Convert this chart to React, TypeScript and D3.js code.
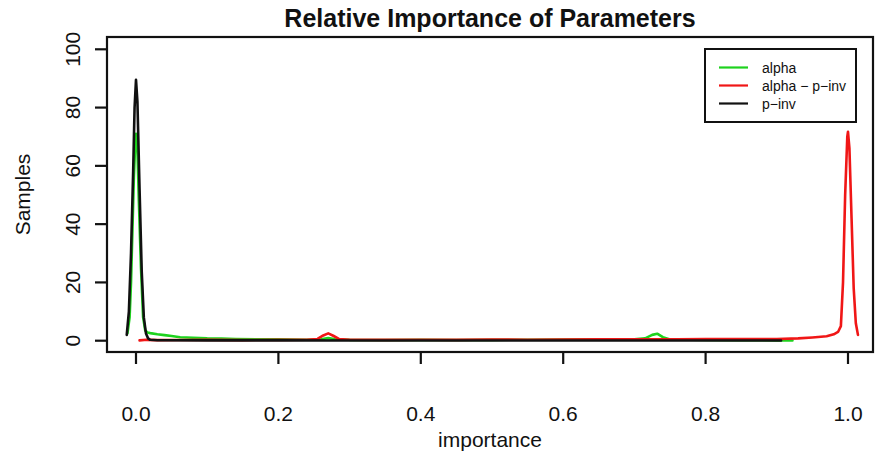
import React from "react";
import * as d3 from "d3";

const WIDTH = 875;
const HEIGHT = 457;

const xTicks = [0, 0.2, 0.4, 0.6, 0.8, 1.0];
const yTicks = [0, 20, 40, 60, 80, 100];

const seriesNames = ["alpha", "alpha \u2212 p\u2212inv", "p\u2212inv"];
const seriesColors = ["#1ed21e", "#f01616", "#111111"];

// alpha
const alphaX = [-0.012, -0.009, -0.007, -0.005, -0.003, -0.001, 0.0, 0.002, 0.004, 0.007, 0.010, 0.013, 0.016, 0.02, 0.03, 0.04, 0.05, 0.062, 0.08, 0.1, 0.12, 0.14, 0.17, 0.2, 0.24, 0.26, 0.27, 0.28, 0.3, 0.35, 0.4, 0.45, 0.5, 0.55, 0.6, 0.65, 0.7, 0.715, 0.725, 0.732, 0.74, 0.75, 0.8, 0.85, 0.9, 0.922];
const alphaY = [2.5, 8, 20, 38, 56, 68, 71, 66, 48, 25, 8, 3.5, 2.8, 2.6, 2.2, 1.9, 1.6, 1.2, 1.0, 0.8, 0.75, 0.6, 0.5, 0.45, 0.35, 0.5, 0.9, 0.5, 0.3, 0.25, 0.3, 0.25, 0.3, 0.35, 0.4, 0.45, 0.5, 0.8, 2.0, 2.4, 1.2, 0.4, 0.3, 0.2, 0.1, 0.05];

// alpha - p-inv
const alphaPinvX = [0.005, 0.015, 0.03, 0.06, 0.1, 0.15, 0.2, 0.24, 0.255, 0.263, 0.27, 0.277, 0.285, 0.3, 0.35, 0.4, 0.45, 0.5, 0.55, 0.6, 0.65, 0.7, 0.73, 0.76, 0.8, 0.85, 0.9, 0.93, 0.95, 0.97, 0.98, 0.986, 0.99, 0.993, 0.996, 0.999, 1.0, 1.002, 1.005, 1.008, 1.011, 1.014];
const alphaPinvY = [0.1, 0.3, 0.2, 0.25, 0.3, 0.2, 0.3, 0.35, 0.6, 1.8, 2.5, 1.7, 0.6, 0.35, 0.3, 0.35, 0.3, 0.4, 0.35, 0.4, 0.45, 0.5, 0.45, 0.5, 0.55, 0.6, 0.6, 0.8, 1.1, 1.5, 2.2, 3.0, 5, 20, 50, 70, 71.7, 66, 42, 18, 6, 2];

// p-inv
const pinvX = [-0.013, -0.010, -0.007, -0.004, -0.002, 0.0, 0.002, 0.005, 0.008, 0.011, 0.014, 0.017, 0.02, 0.03, 0.1, 0.2, 0.3, 0.4, 0.5, 0.6, 0.7, 0.8, 0.906];
const pinvY = [2, 10, 30, 58, 80, 89.5, 82, 52, 24, 8, 2.5, 0.8, 0.3, 0.15, 0.1, 0.1, 0.05, 0.05, 0.05, 0.05, 0.05, 0.05, 0.05];

const seriesX = [alphaX, alphaPinvX, pinvX];
const seriesY = [alphaY, alphaPinvY, pinvY];

const FONT = "'Liberation Sans', Arial, Helvetica, sans-serif";

export default function App() {
  const box = { left: 107, right: 873, top: 37, bottom: 352 };
  const x = d3.scaleLinear().domain([0, 1]).range([136, 848]);
  const y = d3.scaleLinear().domain([0, 100]).range([340.7, 49.3]);

  const line = d3
    .line<[number, number]>()
    .x((d) => x(d[0]))
    .y((d) => y(d[1]));

  const tick = 12;
  const cx = (box.left + box.right) / 2;
  const cy = (box.top + box.bottom) / 2;

  return (
    <svg
      width={WIDTH}
      height={HEIGHT}
      style={{ position: "absolute", left: 0, top: 0, background: "#fff" }}
      fontFamily={FONT}
    >
      <rect x={0} y={0} width={WIDTH} height={HEIGHT} fill="#fff" />
      <text x={cx} y={27} textAnchor="middle" fontSize={25} fontWeight="bold" fill="#111">
        Relative Importance of Parameters
      </text>

      {/* series */}
      {seriesX.map((xs, i) => (
        <path
          key={i}
          d={line(xs.map((v, j) => [v, seriesY[i][j]] as [number, number])) || ""}
          fill="none"
          stroke={seriesColors[i]}
          strokeWidth={2.6}
          strokeLinejoin="round"
          strokeLinecap="round"
        />
      ))}

      {/* box */}
      <rect
        x={box.left}
        y={box.top}
        width={box.right - box.left}
        height={box.bottom - box.top}
        fill="none"
        stroke="#111"
        strokeWidth={2.2}
      />

      {/* x axis */}
      {xTicks.map((t) => (
        <g key={t}>
          <line x1={x(t)} x2={x(t)} y1={box.bottom} y2={box.bottom + tick} stroke="#111" strokeWidth={2.2} />
          <text x={x(t)} y={421} textAnchor="middle" fontSize={21} fill="#111">
            {t.toFixed(1)}
          </text>
        </g>
      ))}

      {/* y axis */}
      {yTicks.map((t) => (
        <g key={t}>
          <line x1={box.left} x2={box.left - tick} y1={y(t)} y2={y(t)} stroke="#111" strokeWidth={2.2} />
          <text
            transform={`translate(80,${y(t)}) rotate(-90)`}
            textAnchor="middle"
            fontSize={21}
            fill="#111"
          >
            {t}
          </text>
        </g>
      ))}

      <text x={cx} y={447} textAnchor="middle" fontSize={21} fill="#111">
        importance
      </text>
      <text transform={`translate(30,${cy}) rotate(-90)`} textAnchor="middle" fontSize={21} fill="#111">
        Samples
      </text>

      {/* legend */}
      <rect x={705} y={49} width={151} height={73} fill="#fff" stroke="#111" strokeWidth={2} />
      {seriesNames.map((n, i) => (
        <g key={n}>
          <line x1={719} x2={748} y1={67.5 + i * 18} y2={67.5 + i * 18} stroke={seriesColors[i]} strokeWidth={2.2} />
          <text x={762} y={67.5 + i * 18 + 5} fontSize={14} fill="#111">
            {n}
          </text>
        </g>
      ))}
    </svg>
  );
}
